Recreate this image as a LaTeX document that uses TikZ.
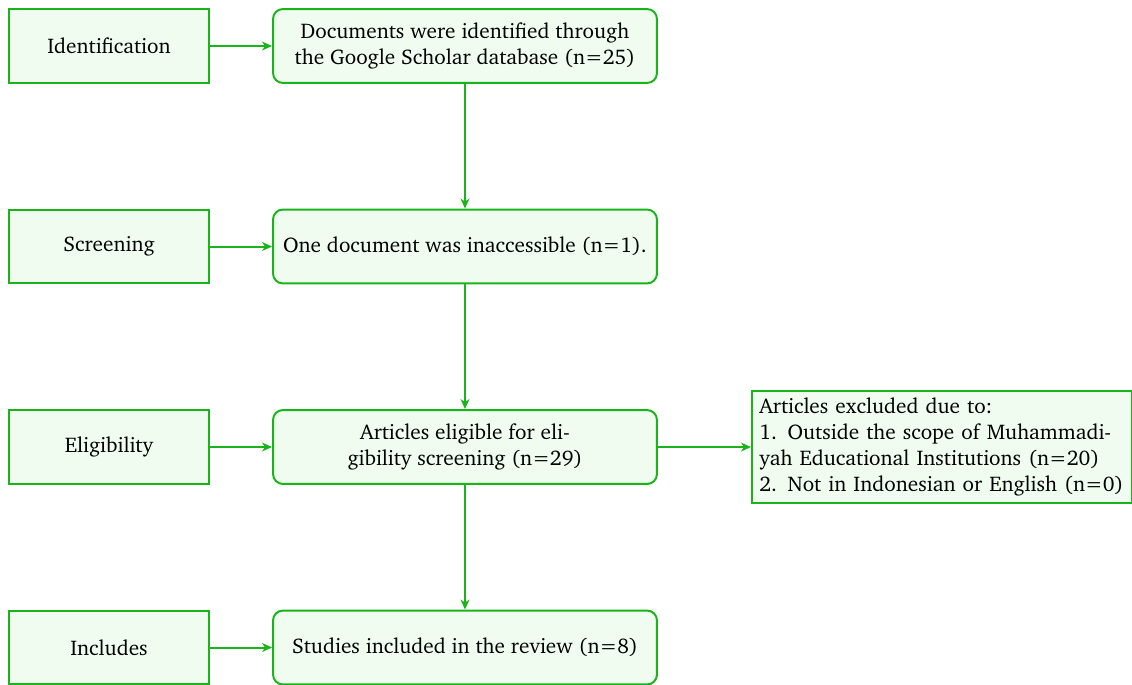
\documentclass[tikz,border=0pt]{standalone}
\usepackage[T1]{fontenc}
\usepackage{charter}
\usetikzlibrary{arrows.meta}
\definecolor{bord}{RGB}{25,180,25}
\definecolor{boxfill}{RGB}{241,252,241}
\tikzset{
  every node/.append style={font=\fontsize{9.65}{11.8}\selectfont},
  stagebox/.style={draw=bord, fill=boxfill, line width=0.9pt, minimum width=90.9pt, minimum height=33.6pt, inner sep=3.33pt},
  mainbox/.style={draw=bord, fill=boxfill, line width=0.9pt, rounded corners=4.5pt, minimum width=174.5pt, minimum height=33.6pt, align=center, inner sep=3.33pt},
  exclbox/.style={draw=bord, fill=boxfill, line width=0.9pt, align=left, text width=166pt, inner sep=3.33pt, anchor=west},
  conn/.style={draw=bord, line width=0.9pt, -{Stealth[length=4.5pt,width=4pt,inset=1.3pt]}}
}
\begin{document}
\begin{tikzpicture}[x=0.4545pt, y=-0.4545pt]
\useasboundingbox (0,0) rectangle (1132,684);
\node[stagebox] (s1) at (109,46) {Identification};
\node[stagebox] (s2) at (109,246.5) {Screening};
\node[stagebox] (s3) at (109,447) {Eligibility};
\node[stagebox] (s4) at (109,647.5) {Includes};
\node[mainbox] (m1) at (465,46) {Documents were identified through\\the Google Scholar database (n=25)};
\node[mainbox] (m2) at (465,246.5) {One document was inaccessible (n=1).};
\node[mainbox] (m3) at (465,447) {Articles eligible for eli-\\gibility screening (n=29)};
\node[mainbox] (m4) at (465,647.5) {Studies included in the review (n=8)};
\node[exclbox] (ex) at (751,447) {Articles excluded due to:\\1.\ \,Outside the scope of Muhammadi-\\yah Educational Institutions (n=20)\\2.\ \,Not in Indonesian or English (n=0)};
\draw[conn] (s1) -- (m1);
\draw[conn] (s2) -- (m2);
\draw[conn] (s3) -- (m3);
\draw[conn] (s4) -- (m4);
\draw[conn] (m1) -- (m2);
\draw[conn] (m2) -- (m3);
\draw[conn] (m3) -- (m4);
\draw[conn] (m3) -- (ex);
\end{tikzpicture}
\end{document}
